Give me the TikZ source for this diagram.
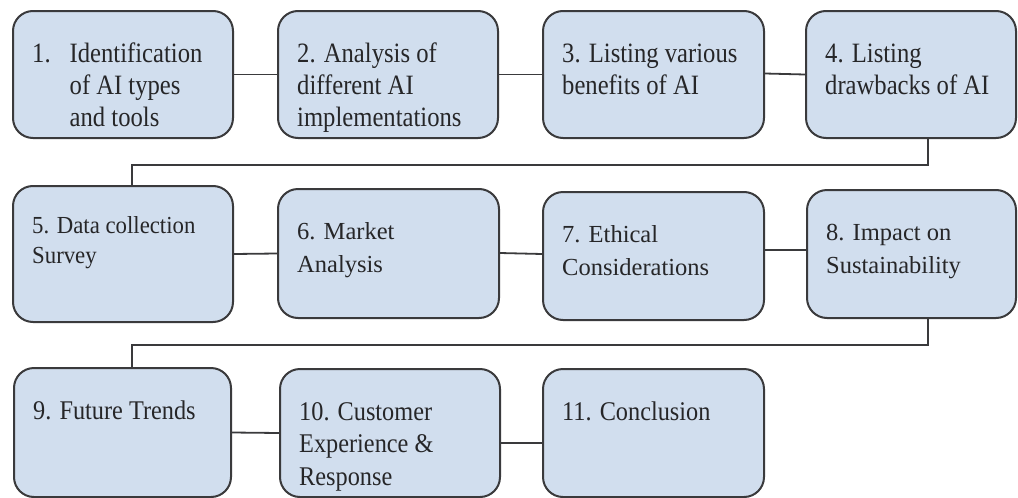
\documentclass[tikz,border=0pt]{standalone}
\usepackage{fontspec}
\setmainfont{Liberation Serif}
% cuts of the same serif, narrowed by different amounts
\newfontfamily\serifnarrow{Liberation Serif}[FakeStretch=0.88]
\newfontfamily\serifplain{Liberation Serif}
\newfontfamily\serifmid{Liberation Serif}[FakeStretch=0.93]
\newfontfamily\seriflow{Liberation Serif}[FakeStretch=0.9]
\usetikzlibrary{calc}
\definecolor{boxfill}{RGB}{209,222,238}
\definecolor{boxline}{RGB}{58,58,60}
\definecolor{inkgray}{RGB}{38,38,40}
\tikzset{
  stepbox/.style={draw=boxline, line width=2pt, fill=boxfill, rounded corners=20pt,
    inner sep=0pt},
  steptext/.style={anchor=base west, inner sep=0pt, text=inkgray},
  topline/.style={font=\serifnarrow\fontsize{28}{32}\selectfont},
  midline/.style={font=\serifplain\fontsize{24.5}{33}\selectfont},
  tightmid/.style={font=\serifmid\fontsize{24.5}{30}\selectfont},
  lowline/.style={font=\seriflow\fontsize{27}{32.5}\selectfont},
  link/.style={draw=boxline, line width=1.8pt},
}
% one box from its top-left and bottom-right corners, with its text set
% from the top-left with a fixed inset (first baseline 51pt below the top)
\newcommand{\stepnode}[7]{%
  \node[stepbox, minimum width=#4pt-#2pt, minimum height=#5pt-#3pt, anchor=north west]
    (#1) at (#2,#3) {};
  \node[steptext, #6] (#1t) at ($(#1.north west)+(20,51)$)
    {\parbox[t]{190pt}{\raggedright #7}};
}
\begin{document}
\begin{tikzpicture}[x=1pt, y=-1pt]
\useasboundingbox (0,0) rectangle (1018,498);

% first row
\stepnode{b1}{12}{10}{232}{137}{topline, yshift=-1pt}{1.\hspace{19pt}\parbox[t]{150pt}{Identification\\of AI types\\and tools}}
\stepnode{b2}{277}{10}{497}{137}{topline, yshift=-1pt}{2. Analysis of\\different AI\\implementations}
\stepnode{b3}{542}{10}{763}{137}{topline, yshift=-1pt}{3. Listing various\\benefits of AI}
\stepnode{b4}{805}{10}{1015}{137}{topline, yshift=-1pt}{4. Listing\\drawbacks of AI}

% second row
\stepnode{b5}{12}{185}{232}{321}{tightmid, yshift=3pt}{5. Data collection\\Survey}
\stepnode{b6}{277}{188}{498}{317}{midline}{6. Market\\Analysis}
\stepnode{b7}{542}{191}{763}{319}{midline}{7. Ethical\\Considerations}
\stepnode{b8}{806}{189}{1015}{317}{midline}{8. Impact on\\Sustainability}

% third row
\stepnode{b9}{13}{367}{230}{496}{lowline, yshift=-1pt}{9. Future Trends}
\stepnode{b10}{279}{368}{499}{496}{lowline, yshift=-1pt}{10. Customer\\Experience \&\\Response}
\stepnode{b11}{542}{368}{763}{496}{lowline, yshift=-1pt}{11. Conclusion}

% links within the rows
\draw[link] (b1.east) -- (b2.west);
\draw[link] (b2.east) -- (b3.west);
\draw[link] ([yshift=1pt]b3.east) -- (b4.west);
\draw[link] (b5.east) -- (b6.west);
\draw[link] ([yshift=0.5pt]b6.east) -- ([yshift=2pt]b7.west);
\draw[link] ([yshift=6pt]b7.east) -- ([yshift=4pt]b8.west);
\draw[link] (b9.east) -- (b10.west);
\draw[link] ([yshift=-10pt]b10.east) -- ([yshift=-10pt]b11.west);

% links from the end of one row to the start of the next
\coordinate (r1a) at (928,165);
\coordinate (r1b) at (132,165);
\draw[link] (b4.south -| r1a) -- (r1a) -- (r1b) -- (b5.north -| r1b);
\coordinate (r2a) at (928,345);
\coordinate (r2b) at (132,345);
\draw[link] (b8.south -| r2a) -- (r2a) -- (r2b) -- (b9.north -| r2b);
\end{tikzpicture}
\end{document}
